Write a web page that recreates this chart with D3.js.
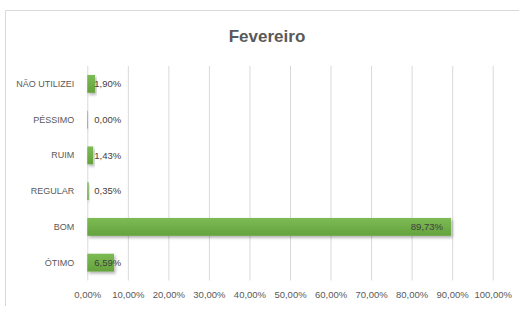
<!DOCTYPE html>
<html lang="pt">
<head>
  <meta charset="UTF-8">
  <title>Fevereiro</title>
  <script src="https://d3js.org/d3.v7.min.js"></script>
  <style>
    html, body { margin: 0; padding: 0; background: #fff; }
    svg { display: block; font-family: "Liberation Sans Narrow", "Liberation Sans", sans-serif; }
  </style>
</head>
<body>
  <svg id="chart" width="519" height="309"></svg>
  <script>
    // data
    const categories = ["NÃO UTILIZEI", "PÉSSIMO", "RUIM", "REGULAR", "BOM", "ÓTIMO"];
    const values = [1.90, 0.00, 1.43, 0.35, 89.73, 6.59];
    const tickValues = [0, 10, 20, 30, 40, 50, 60, 70, 80, 90, 100];
    const title = "Fevereiro";

    const svg = d3.select("#chart");
    const plot = { left: 87.3, right: 492.7, top: 66, bottom: 280.5 };

    const fmt = v => v.toFixed(2).replace(".", ",") + "%";

    const xScale = d3.scaleLinear().domain([0, 100]).range([plot.left, plot.right]);
    const yScale = d3.scaleBand().domain(categories).range([plot.top, plot.bottom]).paddingInner(0.5).paddingOuter(0.25);

    // shadow + gradient
    const defs = svg.append("defs");
    const shadow = defs.append("filter").attr("id", "shadow")
      .attr("x", "-20%").attr("y", "-30%").attr("width", "140%").attr("height", "170%");
    shadow.append("feDropShadow").attr("dx", 1.5).attr("dy", 2).attr("stdDeviation", 1.5)
      .attr("flood-color", "#000").attr("flood-opacity", 0.3);
    const grad = defs.append("linearGradient").attr("id", "barGrad")
      .attr("x1", 0).attr("y1", 0).attr("x2", 0).attr("y2", 1);
    grad.append("stop").attr("offset", "0%").attr("stop-color", "#7dbb55");
    grad.append("stop").attr("offset", "100%").attr("stop-color", "#64a23c");

    // chart area border
    svg.append("path")
      .attr("d", "M5.5,306 L5.5,10.5 L519,10.5")
      .attr("fill", "none")
      .attr("stroke", "#d9d9d9")
      .attr("stroke-width", 1);

    svg.append("text")
      .attr("x", 267)
      .attr("y", 42)
      .attr("text-anchor", "middle")
      .attr("font-size", "17px")
      .attr("font-weight", "bold")
      .attr("fill", "#595959")
      .text(title);

    // gridlines
    svg.append("g")
      .attr("transform", `translate(0,${plot.bottom})`)
      .call(d3.axisBottom(xScale).tickValues(tickValues).tickSize(-(plot.bottom - plot.top)).tickFormat(""))
      .call(g => g.select(".domain").remove())
      .call(g => g.selectAll("line").attr("stroke", "#d9d9d9"));

    // x tick labels
    svg.append("g")
      .attr("transform", `translate(0,${plot.bottom})`)
      .call(d3.axisBottom(xScale).tickValues(tickValues).tickSize(0).tickPadding(11).tickFormat(d => fmt(d)))
      .call(g => g.select(".domain").remove())
      .call(g => g.selectAll("text").attr("fill", "#595959").attr("font-size", "9.5px").attr("font-family", null));

    // category labels
    svg.append("g")
      .attr("transform", `translate(${plot.left},0)`)
      .call(d3.axisLeft(yScale).tickSize(0).tickPadding(13))
      .call(g => g.select(".domain").remove())
      .call(g => g.selectAll("text").attr("fill", "#595959").attr("font-size", "9px").attr("font-family", null));

    // bars
    svg.append("g").selectAll("rect")
      .data(categories)
      .join("rect")
      .attr("x", xScale(0))
      .attr("y", (d) => yScale(d))
      .attr("width", (d, i) => Math.max(0.6, xScale(values[i]) - xScale(0)))
      .attr("height", yScale.bandwidth())
      .attr("fill", "url(#barGrad)")
      .attr("filter", "url(#shadow)");

    // value labels
    svg.append("g").selectAll("text")
      .data(categories)
      .join("text")
      .attr("x", (d, i) => values[i] > 50 ? xScale(values[i]) - 8 : xScale(0) + 7)
      .attr("y", (d) => yScale(d) + yScale.bandwidth() / 2)
      .attr("dy", "0.35em")
      .attr("text-anchor", (d, i) => values[i] > 50 ? "end" : "start")
      .attr("font-size", "9.5px")
      .attr("fill", "#404040")
      .text((d, i) => fmt(values[i]));
  </script>
</body>
</html>
